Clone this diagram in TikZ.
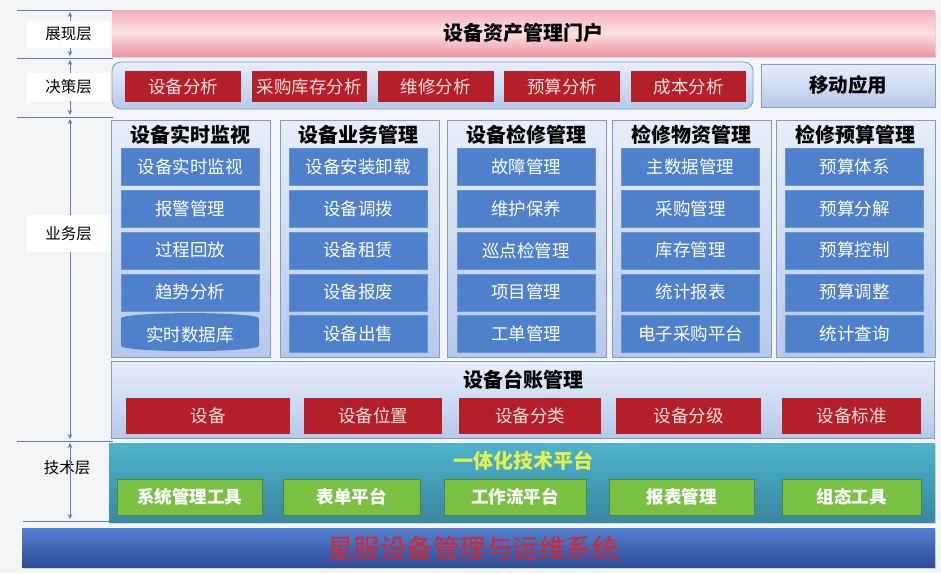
\documentclass[tikz,border=0pt]{standalone}
\usepackage{fontspec}
\setmainfont{Noto Sans CJK SC}
\usetikzlibrary{arrows.meta,positioning,shapes.geometric,shadows}

\definecolor{linecol}{HTML}{5B7DB8}
\definecolor{pagebg}{HTML}{F4F5F7}
\definecolor{portaltop}{HTML}{F5B0BA}
\definecolor{portalmid}{HTML}{FCE0E4}
\definecolor{portalbot}{HTML}{F096A2}
\definecolor{panelline}{HTML}{7F9BC9}
\definecolor{paneltop}{HTML}{E8EEF9}
\definecolor{panelbot}{HTML}{B6C9EA}
\definecolor{itemblue}{HTML}{4F80CB}
\definecolor{itemred}{HTML}{B41F29}
\definecolor{redtext}{HTML}{F7E1E1}
\definecolor{tealtop}{HTML}{4DB3CB}
\definecolor{tealbot}{HTML}{3A87A3}
\definecolor{itemgreen}{HTML}{7AC143}
\definecolor{platetext}{HTML}{E5F04E}
\definecolor{basetop}{HTML}{5281CF}
\definecolor{basebot}{HTML}{2D4C98}
\definecolor{basetext}{HTML}{E3212B}

\newcommand\fsz[1]{\fontsize{#1pt}{#1pt}\selectfont}

\begin{document}
\begin{tikzpicture}[x=1pt,y=-1pt,inner sep=0pt,node distance=4.5pt]
	  \tikzstyle{layerline}=[draw=linecol,line width=0.8pt]
	  \tikzstyle{layerspan}=[layerline,shorten <=2pt,shorten >=2pt,{Stealth[length=5pt,width=4.5pt]}-{Stealth[length=5pt,width=4.5pt]}]
	  \tikzstyle{layertag}=[fill=white,minimum width=83pt,text=black,font=\fsz{15.5}]
	  \tikzstyle{panel}=[draw=panelline,line width=0.8pt,top color=paneltop,bottom color=panelbot]
	  \tikzstyle{redbox}=[fill=itemred,text=redtext,font=\fsz{17.5}]
	  \tikzstyle{bluebox}=[fill=itemblue,draw=itemblue!85!white,text=white,minimum width=138pt,minimum height=37pt,font=\fsz{17.5}]
	  \tikzstyle{greenbox}=[fill=itemgreen,draw=itemgreen!70!black,text=white,minimum height=36pt,font=\bfseries\fsz{17.5}]
	  \tikzstyle{heading}=[text=black,font=\bfseries\fsz{20}]

	  \useasboundingbox (0,0) rectangle (941,573);
	  \fill[pagebg] (0,0) rectangle (941,573);

	  % layer marks
	  \coordinate (L0) at (70,10);
	  \coordinate (L1) at (70,58);
	  \coordinate (L2) at (70,117);
	  \coordinate (L3) at (70,441);
	  \coordinate (L4) at (70,521);
	  \draw[layerline] (17,10) -- (113,10);
	  \draw[layerline] (17,58) -- (113,58);
	  \draw[layerline] (17,117) -- (113,117);
	  \draw[layerline] (17,441) -- (113,441);
	  \draw[layerline] (23,521) -- (110,521);

	  \node[text=black,font=\fsz{15.5}] (tech) at (67,468) {技术层};
	  \draw[layerspan] (L0) -- (L1);
	  \draw[layerspan] (L1) -- (L2);
	  \draw[layerspan] (L2) -- (L3);
	  \draw[layerspan] (L3) -- (L4);
	  \node[layertag,minimum height=27pt] (show) at (68.5,34) {展现层};
	  \node[layertag,minimum height=28pt] (decide) at (68.5,87) {决策层};
	  \node[layertag,minimum height=37pt] (biz) at (68.5,233.5) {业务层};

	  % portal
	  \node[minimum width=823pt,minimum height=46pt,top color=portaltop,bottom color=portalbot,middle color=portalmid,
	        drop shadow={opacity=0.25,shadow xshift=1pt,shadow yshift=-2pt},heading] (portal) at (523.5,33) {设备资产管理门户};

	  % decision layer
	  \node[panel,rounded corners=9pt,minimum width=641pt,minimum height=47pt] (dpanel) at (432.5,85.5) {};
	  \node[redbox,minimum width=115.5pt,minimum height=31pt] (D1) at (183,86.5) {设备分析};
	  \node[redbox,minimum width=115.5pt,minimum height=31pt] (D2) [right=10.5pt of D1] {采购库存分析};
	  \node[redbox,minimum width=115.5pt,minimum height=31pt] (D3) [right=10.5pt of D2] {维修分析};
	  \node[redbox,minimum width=115.5pt,minimum height=31pt] (D4) [right=10.5pt of D3] {预算分析};
	  \node[redbox,minimum width=115.5pt,minimum height=31pt] (D5) [right=10.5pt of D4] {成本分析};
	  \node[panel,minimum width=174pt,minimum height=43pt,heading,font=\bfseries\fsz{19.5}] (mobile) at (848,85.5) {移动应用};

	  % business layer
	  \node[panel,minimum width=159pt,minimum height=237pt] (C1) at (190.5,238.5) {};
	  \node[panel,minimum width=159pt,minimum height=237pt] (C2) at (359.5,238.5) {};
	  \node[panel,minimum width=159pt,minimum height=237pt] (C3) at (526.5,238.5) {};
	  \node[panel,minimum width=159pt,minimum height=237pt] (C4) at (691.5,238.5) {};
	  \node[panel,minimum width=159pt,minimum height=237pt] (C5) at (855.5,238.5) {};

	  \node[heading] (T1) at (190,135) {设备实时监视};
	  \node[bluebox] (A1) at (190,166.5) {设备实时监视};
	  \node[bluebox] (A2) [below=of A1] {报警管理};
	  \node[bluebox] (A3) [below=of A2] {过程回放};
	  \node[bluebox] (A4) [below=of A3] {趋势分析};
	  \node[cylinder,shape border rotate=90,aspect=0.12,fill=itemblue,text=white,font=\fsz{17.5},
	        minimum width=138pt,minimum height=38pt] (A5) [below=2pt of A4] {实时数据库};

	  \node[heading] (T2) at (358,135) {设备业务管理};
	  \node[bluebox] (B1) at (358,166.5) {设备安装卸载};
	  \node[bluebox] (B2) [below=of B1] {设备调拨};
	  \node[bluebox] (B3) [below=of B2] {设备租赁};
	  \node[bluebox] (B4) [below=of B3] {设备报废};
	  \node[bluebox] (B5) [below=of B4] {设备出售};

	  \node[heading] (T3) at (526,135) {设备检修管理};
	  \node[bluebox] (E1) at (526,166.5) {故障管理};
	  \node[bluebox] (E2) [below=of E1] {维护保养};
	  \node[bluebox] (E3) [below=of E2] {巡点检管理};
	  \node[bluebox] (E4) [below=of E3] {项目管理};
	  \node[bluebox] (E5) [below=of E4] {工单管理};

	  \node[heading] (T4) at (691,135) {检修物资管理};
	  \node[bluebox] (F1) at (690.5,166.5) {主数据管理};
	  \node[bluebox] (F2) [below=of F1] {采购管理};
	  \node[bluebox] (F3) [below=of F2] {库存管理};
	  \node[bluebox] (F4) [below=of F3] {统计报表};
	  \node[bluebox] (F5) [below=of F4] {电子采购平台};

	  \node[heading] (T5) at (855,135) {检修预算管理};
	  \node[bluebox] (G1) at (854.5,166.5) {预算体系};
	  \node[bluebox] (G2) [below=of G1] {预算分解};
	  \node[bluebox] (G3) [below=of G2] {预算控制};
	  \node[bluebox] (G4) [below=of G3] {预算调整};
	  \node[bluebox] (G5) [below=of G4] {统计查询};

	  % ledger
	  \node[panel,minimum width=823pt,minimum height=77pt] (ledger) at (522.5,399.5) {};
	  \node[heading] (TL) at (523,380) {设备台账管理};
	  \node[redbox,minimum width=164pt,minimum height=36pt] (R1) at (208,416) {设备};
	  \node[redbox,minimum width=138pt,minimum height=36pt] (R2) at (373,416) {设备位置};
	  \node[redbox,minimum width=142pt,minimum height=36pt] (R3) at (530,416) {设备分类};
	  \node[redbox,minimum width=145pt,minimum height=36pt] (R4) at (688.5,416) {设备分级};
	  \node[redbox,minimum width=139pt,minimum height=36pt] (R5) at (851.5,416) {设备标准};

	  % technical platform
	  \node[minimum width=826pt,minimum height=79pt,top color=tealtop,bottom color=tealbot,
	        drop shadow={opacity=0.25,shadow xshift=1pt,shadow yshift=-2pt}] (plate) at (522,482.5) {};
	  \node[heading,text=platetext] (TP) at (523,461) {一体化技术平台};
	  \node[greenbox,minimum width=145pt] (P1) at (189.5,497) {系统管理工具};
	  \node[greenbox,minimum width=137pt] (P2) at (351.5,497) {表单平台};
	  \node[greenbox,minimum width=142pt] (P3) at (515,497) {工作流平台};
	  \node[greenbox,minimum width=145pt] (P4) at (681.5,497) {报表管理};
	  \node[greenbox,minimum width=139pt] (P5) at (851.5,497) {组态工具};

	  % base
	  \node[minimum width=913pt,minimum height=39pt,top color=basetop,bottom color=basebot,
	        drop shadow={opacity=0.25,shadow xshift=1pt,shadow yshift=-2pt}] (base) at (478.5,547.5) {};
	  \node[text=basetext,font=\fsz{26.5}] (name) at (473,548) {星服设备管理与运维系统};
	\end{tikzpicture}
\end{document}
